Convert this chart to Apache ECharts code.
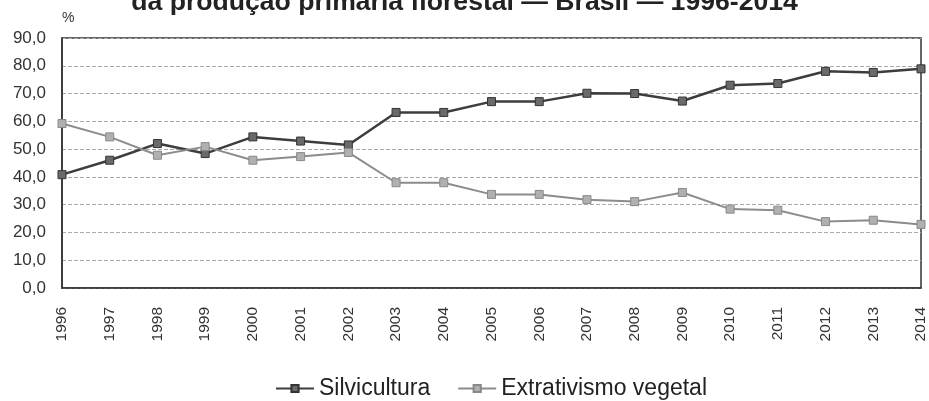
<!DOCTYPE html>
<html><head><meta charset="utf-8">
<script src="https://cdn.jsdelivr.net/npm/echarts@6/dist/echarts.min.js"></script>
<style>html,body{margin:0;padding:0;background:#fff}#c{width:929px;height:401px}</style>
</head><body><div id="c"></div>
<script>
const years = ['1996','1997','1998','1999','2000','2001','2002','2003','2004','2005','2006','2007','2008','2009','2010','2011','2012','2013','2014'];
const silvicultura = [40.8,46.0,52.0,48.4,54.4,52.9,51.5,63.2,63.2,67.1,67.1,70.1,70.0,67.3,73.0,73.6,78.0,77.6,78.9];
const extrativismo = [59.2,54.4,47.8,50.9,46.0,47.3,48.8,37.9,37.9,33.7,33.7,31.8,31.1,34.4,28.4,28.0,23.9,24.4,22.9];
const titleText = 'da produção primária florestal — Brasil — 1996-2014';
const unitText = '%';
const FONT = "'Liberation Sans', Arial, sans-serif";

const chart = echarts.init(document.getElementById('c'));
chart.setOption({
  animation: false,
  backgroundColor: '#fff',
  title: {
    text: titleText, left: 'center', top: -16,
    textStyle: {fontFamily: FONT, fontWeight: 'bold', fontSize: 26.6, color: '#222'}
  },
  grid: {left: 62, right: 5, top: 38, bottom: 113, show: true, borderColor: '#333', borderWidth: 1.5},
  legend: {
    top: 372, left: 270, itemGap: 27, itemWidth: 38, itemHeight: 9,
    textStyle: {fontFamily: FONT, fontSize: 23, color: '#222'},
    data: ['Silvicultura', 'Extrativismo vegetal']
  },
  xAxis: {
    type: 'category', data: years, boundaryGap: false,
    axisLine: {lineStyle: {color: '#333', width: 1.5}},
    axisTick: {show: false},
    axisLabel: {rotate: 90, fontFamily: FONT, fontSize: 15.5, color: '#333', margin: 19}
  },
  yAxis: {
    type: 'value', min: 0, max: 90, interval: 10,
    name: unitText, nameLocation: 'end', nameGap: 13,
    nameTextStyle: {fontFamily: FONT, fontSize: 14, color: '#333', align: 'left', padding: [0,0,0,0]},
    axisLine: {show: true, lineStyle: {color: '#333', width: 1.5}},
    axisTick: {show: false},
    axisLabel: {fontFamily: FONT, fontSize: 17, color: '#333', margin: 16,
      formatter: v => v.toFixed(1).replace('.', ',')},
    splitLine: {lineStyle: {color: '#aaa', type: 'dashed', width: 1}}
  },
  series: [
    {name: 'Silvicultura', type: 'line', data: silvicultura, symbol: 'rect', symbolSize: 8,
     lineStyle: {color: '#3d3d3d', width: 2.5},
     itemStyle: {color: '#6a6a6a', borderColor: '#333', borderWidth: 1}},
    {name: 'Extrativismo vegetal', type: 'line', data: extrativismo, symbol: 'rect', symbolSize: 8,
     lineStyle: {color: '#8c8c8c', width: 2},
     itemStyle: {color: '#b0b0b0', borderColor: '#888', borderWidth: 1}}
  ]
});
</script></body></html>
